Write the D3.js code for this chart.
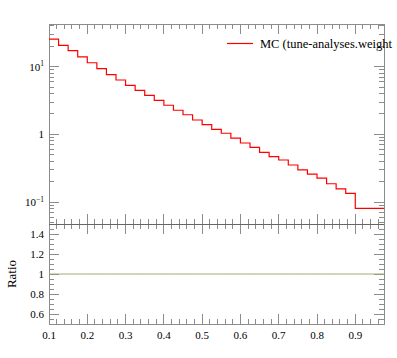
<!DOCTYPE html>
<html>
<head>
<meta charset="utf-8">
<script src="https://cdn.jsdelivr.net/npm/d3@7"></script>
<style>
  body { margin: 0; background: #fff; }
  text { font-family: "Liberation Serif", "DejaVu Serif", serif; fill: #000; }
</style>
</head>
<body>
<div id="container"></div>
<script>
// bin low edges, last bin ends at 0.975
var binLow = [0.100, 0.125, 0.150, 0.175, 0.200, 0.225, 0.250, 0.275, 0.300, 0.325,
              0.350, 0.375, 0.400, 0.425, 0.450, 0.475, 0.500, 0.525, 0.550, 0.575,
              0.600, 0.625, 0.650, 0.675, 0.700, 0.725, 0.750, 0.775, 0.800, 0.825,
              0.850, 0.875, 0.900];
var lastEdge = 0.975;

var mcValues = [25.5, 20.6, 17.2, 13.9, 11.4, 9.31, 7.60, 6.34, 5.30, 4.47,
                3.77, 3.18, 2.69, 2.27, 1.95, 1.63, 1.39, 1.19, 1.04, 0.879,
                0.747, 0.645, 0.545, 0.469, 0.419, 0.354, 0.299, 0.259, 0.226, 0.187,
                0.157, 0.135, 0.0813];

var ratioValues = [1, 1, 1, 1, 1, 1, 1, 1, 1, 1,
                   1, 1, 1, 1, 1, 1, 1, 1, 1, 1,
                   1, 1, 1, 1, 1, 1, 1, 1, 1, 1,
                   1, 1, 1];

var xTickLabels = ["0.1", "0.2", "0.3", "0.4", "0.5", "0.6", "0.7", "0.8", "0.9"];
var yMainTicks = [{v: 0.1, base: "10", exp: "\u22121"}, {v: 1, base: "1", exp: ""}, {v: 10, base: "10", exp: "1"}];
var yRatioTicks = ["0.6", "0.8", "1", "1.2", "1.4"];
var legendLabel = "MC (tune-analyses.weight";

var plotLeft = 49, plotRight = 384, plotTop = 24, mainBottom = 224, ratioBottom = 324;
var frameColor = "#8c8c8c";

var x = d3.scaleLinear().domain([0.1, 0.975]).range([plotLeft, plotRight]);
var y = d3.scaleLog().domain([0.0477, 42.5]).range([mainBottom, plotTop]);
var yr = d3.scaleLinear().domain([0.5, 1.5]).range([ratioBottom, mainBottom]);

var svg = d3.select("#container").append("svg")
    .attr("width", 397)
    .attr("height", 358);

var defs = svg.append("defs");
defs.append("clipPath").attr("id", "clipMain")
  .append("rect").attr("x", plotLeft).attr("y", plotTop)
    .attr("width", plotRight - plotLeft).attr("height", mainBottom - plotTop);
defs.append("clipPath").attr("id", "clipRatio")
  .append("rect").attr("x", plotLeft).attr("y", mainBottom)
    .attr("width", plotRight - plotLeft).attr("height", ratioBottom - mainBottom);

var xMajor = xTickLabels.map(Number);
var xMinor = d3.range(0.12, 0.975, 0.02).filter(function(v) {
  return Math.abs(v * 10 - Math.round(v * 10)) > 1e-6;
});

var yMinor = [];
[-2, -1, 0, 1].forEach(function(e) {
  for (var m = 2; m <= 9; m++) {
    var v = m * Math.pow(10, e);
    if (v > y.domain()[0] && v < y.domain()[1]) yMinor.push(v);
  }
});
var yrMinor = d3.range(0.55, 1.5, 0.05).filter(function(v) {
  return Math.abs(v * 5 - Math.round(v * 5)) > 1e-6;
});

function drawTicks(g, vals, scale, horizontal, pos, len) {
  g.selectAll(null)
      .data(vals)
    .enter().append("line")
      .attr("x1", function(d) { return horizontal ? scale(d) : pos; })
      .attr("x2", function(d) { return horizontal ? scale(d) : pos + len; })
      .attr("y1", function(d) { return horizontal ? pos : scale(d); })
      .attr("y2", function(d) { return horizontal ? pos + len : scale(d); })
      .attr("stroke", frameColor)
      .attr("stroke-width", 1)
      .attr("shape-rendering", "crispEdges");
}

var ticks = svg.append("g");

// x ticks on all horizontal edges, pointing inward
[[plotTop, 1], [mainBottom, -1], [mainBottom, 1], [ratioBottom, -1]].forEach(function(p) {
  drawTicks(ticks, xMajor, x, true, p[0], 10 * p[1]);
  drawTicks(ticks, xMinor, x, true, p[0], 5 * p[1]);
});

// y ticks, left and right
[[plotLeft, 1], [plotRight, -1]].forEach(function(p) {
  drawTicks(ticks, yMainTicks.map(function(t) { return t.v; }), y, false, p[0], 10 * p[1]);
  drawTicks(ticks, yMinor, y, false, p[0], 5 * p[1]);
  drawTicks(ticks, yRatioTicks.map(Number), yr, false, p[0], 10 * p[1]);
  drawTicks(ticks, yrMinor, yr, false, p[0], 5 * p[1]);
});

// frames
svg.append("rect")
    .attr("x", plotLeft).attr("y", plotTop)
    .attr("width", plotRight - plotLeft).attr("height", mainBottom - plotTop)
    .attr("fill", "none").attr("stroke", frameColor)
    .attr("shape-rendering", "crispEdges");
svg.append("rect")
    .attr("x", plotLeft).attr("y", mainBottom)
    .attr("width", plotRight - plotLeft).attr("height", ratioBottom - mainBottom)
    .attr("fill", "none").attr("stroke", frameColor)
    .attr("shape-rendering", "crispEdges");
svg.append("line")
    .attr("x1", plotLeft).attr("x2", plotRight).attr("y1", mainBottom).attr("y2", mainBottom)
    .attr("stroke", "#666").attr("shape-rendering", "crispEdges");

// histogram as steps
function stepPoints(vals) {
  var pts = binLow.map(function(lo, i) { return [lo, vals[i]]; });
  pts.push([lastEdge, vals[vals.length - 1]]);
  return pts;
}

var mainLine = d3.line()
    .curve(d3.curveStepAfter)
    .x(function(d) { return x(d[0]); })
    .y(function(d) { return y(d[1]); });

svg.append("path")
    .datum(stepPoints(mcValues))
    .attr("clip-path", "url(#clipMain)")
    .attr("fill", "none")
    .attr("stroke", "#ff0000")
    .attr("stroke-width", 1.2)
    .attr("d", mainLine);

var ratioLine = d3.line()
    .curve(d3.curveStepAfter)
    .x(function(d) { return x(d[0]); })
    .y(function(d) { return yr(d[1]); });

svg.append("path")
    .datum(stepPoints(ratioValues))
    .attr("clip-path", "url(#clipRatio)")
    .attr("fill", "none")
    .attr("stroke", "#a8a870")
    .attr("stroke-width", 1)
    .attr("d", ratioLine);

// labels
svg.selectAll(".xlab")
    .data(xTickLabels)
  .enter().append("text")
    .attr("class", "xlab")
    .attr("x", function(d) { return x(+d); })
    .attr("y", 339)
    .attr("text-anchor", "middle")
    .attr("font-size", 11)
    .text(function(d) { return d; });

var ylab = svg.selectAll(".ylab")
    .data(yMainTicks)
  .enter().append("text")
    .attr("class", "ylab")
    .attr("x", 44)
    .attr("y", function(d) { return y(d.v) + 4; })
    .attr("text-anchor", "end")
    .attr("font-size", 11);
ylab.append("tspan").text(function(d) { return d.base; });
ylab.append("tspan")
    .attr("dy", -4.5)
    .attr("font-size", 7.5)
    .text(function(d) { return d.exp; });

svg.selectAll(".yrlab")
    .data(yRatioTicks)
  .enter().append("text")
    .attr("class", "yrlab")
    .attr("x", 44)
    .attr("y", function(d) { return yr(+d) + 4; })
    .attr("text-anchor", "end")
    .attr("font-size", 11)
    .text(function(d) { return d; });

svg.append("text")
    .attr("transform", "translate(16," + yr(1) + ") rotate(-90)")
    .attr("text-anchor", "middle")
    .attr("font-size", 13)
    .text("Ratio");

// legend
svg.append("line")
    .attr("x1", 227).attr("x2", 253).attr("y1", 43.5).attr("y2", 43.5)
    .attr("stroke", "#ff0000").attr("stroke-width", 1.2);
svg.append("text")
    .attr("x", 260).attr("y", 48)
    .attr("font-size", 12.5)
    .text(legendLabel);
</script>
</body>
</html>
